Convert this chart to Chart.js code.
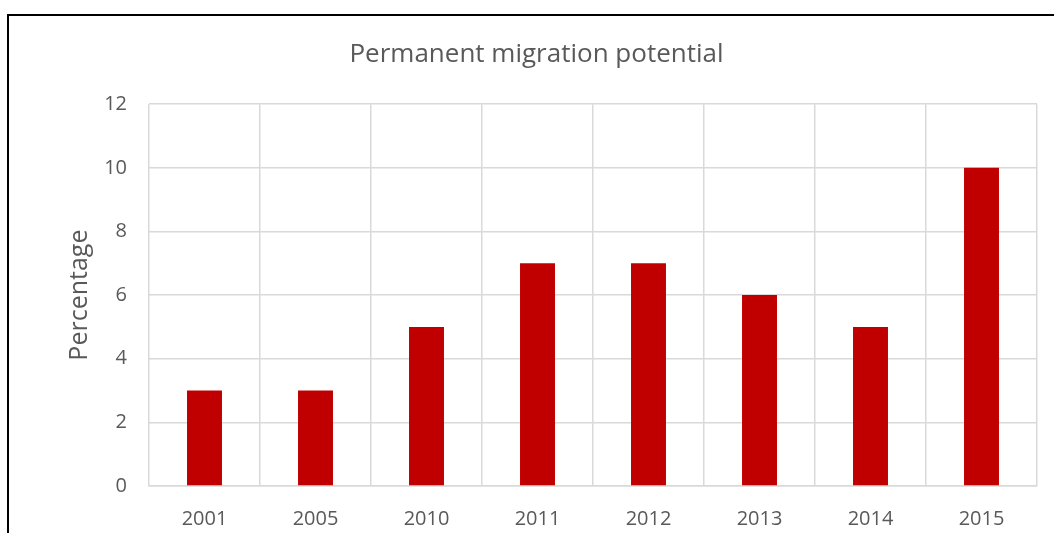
<!DOCTYPE html>
<html>
<head>
<meta charset="utf-8">
<script src="https://cdn.jsdelivr.net/npm/chart.js@4"></script>
<style>
    body { margin: 0; background: #fff; }
    #wrap { position: relative; width: 1054px; height: 533px; }
    #frame {
        position: absolute; left: 7px; top: 14px; width: 1100px; height: 600px;
        border-left: 2px solid #000; border-top: 2px solid #000;
        pointer-events: none;
    }
</style>
</head>
<body>
<div id="wrap">
    <canvas id="chart"></canvas>
    <div id="frame"></div>
</div>
<script>
var years = ['2001', '2005', '2010', '2011', '2012', '2013', '2014', '2015'];
var percentage = [3, 3, 5, 7, 7, 6, 5, 10];
var yMin = 0, yMax = 12, yStep = 2;

var grey = '#595959';
var ctx = document.getElementById('chart').getContext('2d');
var myChart = new Chart(ctx, {
    type: 'bar',
    data: {
        labels: years,
        datasets: [{
            label: 'Percentage',
            data: percentage,
            backgroundColor: '#c00000',
            borderWidth: 0,
            categoryPercentage: 1,
            barPercentage: 0.315
        }]
    },
    options: {
        responsive: true,
        maintainAspectRatio: false,
        animation: false,
        layout: { padding: { left: 36, right: 17, top: 0, bottom: 0 } },
        plugins: {
            legend: { display: false },
            tooltip: { enabled: false },
            title: {
                display: true,
                text: 'Permanent migration potential',
                color: grey,
                font: { family: 'Open Sans', size: 26, weight: 'normal' },
                padding: { top: 39, bottom: 34 }
            }
        },
        scales: {
            x: {
                grid: { color: '#d9d9d9', lineWidth: 1.5, drawTicks: false, offset: true },
                border: { color: '#d9d9d9', width: 1.5 },
                ticks: { color: grey, padding: 21, font: { family: 'Open Sans', size: 20 } },
                afterFit: function(scale) { scale.height = 47; }
            },
            y: {
                min: yMin,
                max: yMax,
                grid: { color: '#d9d9d9', lineWidth: 1.5, drawTicks: false },
                border: { display: false },
                ticks: { stepSize: yStep, color: grey, padding: 22, font: { family: 'Open Sans', size: 20 } },
                title: {
                    display: true,
                    text: 'Percentage',
                    color: grey,
                    font: { family: 'Open Sans', size: 25 },
                    padding: { top: 29, bottom: 0 }
                },
                afterFit: function(scale) { scale.width = 113; }
            }
        }
    }
});
</script>
</body>
</html>
